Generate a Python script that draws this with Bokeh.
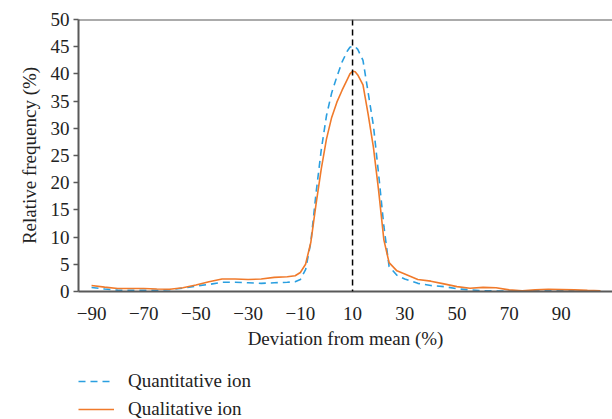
from bokeh.plotting import figure
from bokeh.layouts import column
from bokeh.models import Span, Legend, LegendItem, Range1d, FixedTicker
from bokeh.embed import file_html
from bokeh.resources import INLINE

# Qualitative ion (solid orange)
qual_x = [-90, -85, -80, -75, -70, -65, -60, -55, -50, -45, -40, -35, -30, -25, -20, -15, -12, -10,
          -8, -6, -4, -2, 0, 2, 4, 6, 8, 9, 10, 11, 12, 14, 16, 18, 20, 22, 24, 27, 30, 35, 40, 45, 50,
          55, 60, 65, 70, 75, 80, 85, 90, 95, 100, 105]
qual_y = [1.1, 0.8, 0.55, 0.55, 0.55, 0.45, 0.4, 0.7, 1.2, 1.8, 2.3, 2.3, 2.2, 2.3, 2.6, 2.7, 2.9, 3.5,
          5.0, 9.0, 16.0, 22.5, 28.0, 32.0, 34.8, 37.0, 39.0, 40.0, 40.5, 40.4, 39.8, 38.0, 32.5, 26.5,
          18.5, 9.5, 5.3, 3.8, 3.2, 2.2, 1.9, 1.4, 0.9, 0.6, 0.75, 0.7, 0.3, 0.15, 0.3, 0.4, 0.35, 0.3,
          0.2, 0.15]

# Quantitative ion (dashed blue)
quant_x = [-90, -85, -80, -75, -70, -65, -60, -55, -50, -45, -40, -35, -30, -25, -20, -15, -12, -10,
           -8, -6, -4, -2, 0, 2, 4, 6, 8, 9, 10, 11, 12, 14, 16, 18, 20, 22, 24, 27, 30, 35, 40, 45, 50,
           55, 60, 65, 70, 75, 80, 85, 90, 95]
quant_y = [0.75, 0.45, 0.25, 0.2, 0.2, 0.2, 0.35, 0.6, 1.0, 1.3, 1.7, 1.7, 1.6, 1.5, 1.6, 1.7, 1.8, 2.2,
           4.0, 9.0, 18.0, 26.0, 32.3, 36.5, 39.5, 42.2, 44.2, 44.9, 45.1, 45.0, 44.5, 42.5, 36.5, 30.5,
           21.5, 12.0, 4.6, 3.0, 2.3, 1.5, 1.1, 0.9, 0.5, 0.3, 0.15, 0.1, 0.1, 0.1, 0.15, 0.25, 0.2, 0.1]

series_labels = ["Quantitative ion", "Qualitative ion"]

x_ticks = [-90, -70, -50, -30, -10, 10, 30, 50, 70, 90]
x_tick_labels = ["\u221290", "\u221270", "\u221250", "\u221230", "\u221210", "10", "30", "50", "70", "90"]
y_ticks = [0, 5, 10, 15, 20, 25, 30, 35, 40, 45, 50]
mean_line_x = 10

FONT = "Liberation Serif"
AXIS_COLOR = "#595959"
TEXT_COLOR = "#222222"
BLUE = "#2a9fe0"
ORANGE = "#f07a2b"
QUANT_STYLE = dict(line_color=BLUE, line_width=1.6, line_dash="7 5")
QUAL_STYLE = dict(line_color=ORANGE, line_width=1.6)

# ---------------- main chart ----------------
p = figure(width=612, height=362, output_backend="svg", toolbar_location=None,
           x_range=Range1d(-95, 109.6), y_range=Range1d(0, 50),
           min_border_left=78, min_border_right=0, min_border_top=19, min_border_bottom=71)
p.outline_line_color = None
p.grid.grid_line_color = None
p.background_fill_color = "white"
p.border_fill_color = "white"

p.line(quant_x, quant_y, **QUANT_STYLE)
p.line(qual_x, qual_y, **QUAL_STYLE)

p.add_layout(Span(location=mean_line_x, dimension="height", line_color="black",
                  line_width=1.5, line_dash="6 4"))
p.add_layout(Span(location=50, dimension="width", line_color=AXIS_COLOR, line_width=2))

xa = p.xaxis[0]
xa.ticker = FixedTicker(ticks=x_ticks)
xa.major_label_overrides = {t: l for t, l in zip(x_ticks, x_tick_labels)}
xa.axis_label = "Deviation from mean (%)"
xa.major_tick_line_color = None
xa.minor_tick_line_color = None
xa.axis_line_color = AXIS_COLOR
xa.axis_line_width = 2
xa.major_label_standoff = 9
xa.axis_label_standoff = 5

ya = p.yaxis[0]
ya.ticker = FixedTicker(ticks=y_ticks)
ya.axis_label = "Relative frequency (%)"
ya.major_tick_in = 0
ya.major_tick_out = 5
ya.major_tick_line_color = AXIS_COLOR
ya.major_tick_line_width = 1.5
ya.minor_tick_line_color = None
ya.axis_line_color = AXIS_COLOR
ya.axis_line_width = 2
ya.major_label_standoff = 4
ya.axis_label_standoff = 8

for ax in (xa, ya):
    ax.major_label_text_font = FONT
    ax.major_label_text_font_size = "19px"
    ax.major_label_text_color = TEXT_COLOR
    ax.axis_label_text_font = FONT
    ax.axis_label_text_font_size = "19px"
    ax.axis_label_text_font_style = "normal"
    ax.axis_label_text_color = TEXT_COLOR

# ---------------- legend strip below the chart ----------------
lg = figure(width=612, height=57, output_backend="svg", toolbar_location=None,
            x_range=Range1d(0, 1), y_range=Range1d(0, 1),
            x_axis_location=None, y_axis_location=None,
            min_border_left=0, min_border_right=0, min_border_top=0, min_border_bottom=0)
lg.outline_line_color = None
lg.grid.grid_line_color = None
lg.background_fill_color = "white"
lg.border_fill_color = "white"
nan = float("nan")
key_quant = lg.line([nan], [nan], **QUANT_STYLE)
key_qual = lg.line([nan], [nan], **QUAL_STYLE)

legend = Legend(items=[LegendItem(label=series_labels[0], renderers=[key_quant]),
                       LegendItem(label=series_labels[1], renderers=[key_qual])],
                location=(0, -1), orientation="vertical", padding=0, margin=0, spacing=6,
                glyph_width=36, glyph_height=20, label_height=20, label_standoff=14,
                label_text_font=FONT, label_text_font_size="19px", label_text_color=TEXT_COLOR,
                border_line_color=None, background_fill_alpha=0)
lg.add_layout(legend)

layout = column(p, lg, spacing=0)
open("out.html", "w").write(file_html(layout, INLINE))
